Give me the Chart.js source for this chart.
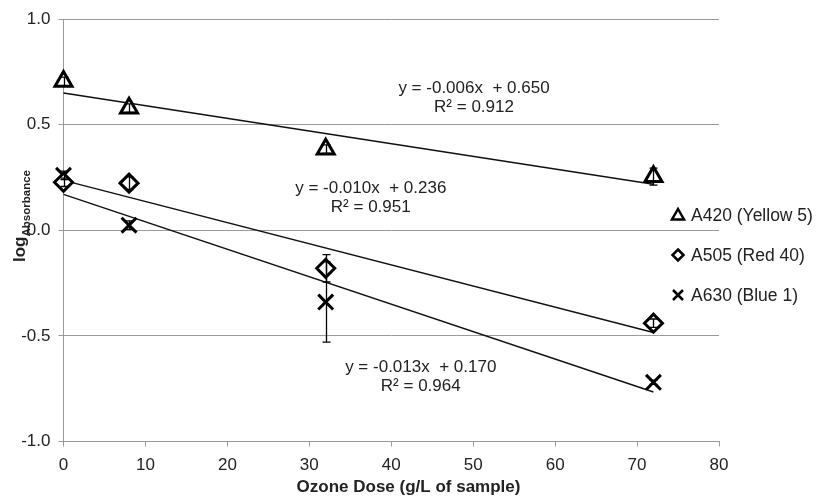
<!DOCTYPE html>
<html><head><meta charset="utf-8">
<script src="https://cdn.jsdelivr.net/npm/chart.js@4.4.1/dist/chart.umd.min.js"></script>
<style>html,body{margin:0;padding:0;background:#fff;}#wrap{width:817px;height:497px;}</style>
</head><body><div id="wrap"><canvas id="c" width="817" height="497"></canvas></div>
<script>
// ---- data ----
const doses = [0, 8, 32, 72];
const seriesLabels = ['A420 (Yellow 5)', 'A505 (Red 40)', 'A630 (Blue 1)'];
const a420 = [0.705, 0.578, 0.384, 0.254];
const a505 = [0.227, 0.223, -0.180, -0.440];
const a630 = [0.260, 0.024, -0.340, -0.720];
const err420 = [0.02, 0.02, 0.02, 0.04];
const err505 = [0.02, 0.03, 0.065, 0.02];
const err630 = [0.02, 0.02, 0.19, 0.01];
const trendSlopes = [-0.006, -0.010, -0.013];
const trendIntercepts = [0.650, 0.236, 0.170];
const trendR2 = [0.912, 0.951, 0.964];
const trendRange = [0, 72];
const xTicks = [0, 10, 20, 30, 40, 50, 60, 70, 80];
const yTicks = [-1.0, -0.5, 0.0, 0.5, 1.0];
const xTitle = 'Ozone Dose (g/L of sample)';
const yTitleMain = 'log';
const yTitleSub = 'Absorbance';

// ---- styling / layout (not data) ----
const FONT = '"Liberation Sans", Arial, sans-serif';
const TXT = '#222';
const GRID = '#9a9a9a';
const pointStyles = ['triangle', 'rectRot', 'crossRot'];
const pointRadii = [9.8, 9, 10.5];
const eqAnchors = [{x: 50.1, y: 0.674}, {x: 37.5, y: 0.199}, {x: 43.6, y: -0.649}];
const legendLayout = {x: 678, y0: 215, gap: 40, textX: 691};

const values = [a420, a505, a630];
const errors = [err420, err505, err630];

const datasets = [];
values.forEach((vals, i) => {
  datasets.push({
    type: 'scatter',
    label: seriesLabels[i],
    data: doses.map((d, j) => ({x: d, y: vals[j]})),
    pointStyle: pointStyles[i],
    pointRadius: pointRadii[i],
    pointHoverRadius: pointRadii[i],
    pointBorderWidth: 3,
    borderColor: '#000',
    backgroundColor: '#fff',
    pointBackgroundColor: '#fff',
    showLine: false,
    clip: false,
    order: 1
  });
});
trendSlopes.forEach((m, i) => {
  datasets.push({
    type: 'line',
    label: 'trend ' + seriesLabels[i],
    data: trendRange.map(x => ({x: x, y: m * x + trendIntercepts[i]})),
    borderColor: '#111',
    borderWidth: 1.5,
    pointRadius: 0,
    fill: false,
    clip: false,
    order: 2
  });
});

const extras = {
  id: 'extras',
  afterDatasetsDraw(chart) {
    const ctx = chart.ctx, xs = chart.scales.x, ys = chart.scales.y;
    ctx.save();
    ctx.strokeStyle = '#000';
    ctx.lineWidth = 1.3;
    values.forEach((vals, i) => {
      vals.forEach((v, j) => {
        const e = errors[i][j];
        const px = Math.round(xs.getPixelForValue(doses[j])) + 0.5;
        const t = ys.getPixelForValue(v + e), b = ys.getPixelForValue(v - e);
        ctx.beginPath();
        ctx.moveTo(px, t); ctx.lineTo(px, b);
        ctx.moveTo(px - 4, t); ctx.lineTo(px + 4, t);
        ctx.moveTo(px - 4, b); ctx.lineTo(px + 4, b);
        ctx.stroke();
      });
    });
    ctx.restore();
  },
  afterDraw(chart) {
    const ctx = chart.ctx, xs = chart.scales.x, ys = chart.scales.y;
    ctx.save();
    // trend equations
    ctx.fillStyle = TXT;
    ctx.font = '17px ' + FONT;
    ctx.textAlign = 'center';
    ctx.textBaseline = 'middle';
    trendSlopes.forEach((m, i) => {
      const cx = xs.getPixelForValue(eqAnchors[i].x);
      const cy = ys.getPixelForValue(eqAnchors[i].y);
      const sign = trendIntercepts[i] >= 0 ? '+' : '-';
      ctx.fillText('y = ' + m.toFixed(3) + 'x  ' + sign + ' ' + Math.abs(trendIntercepts[i]).toFixed(3), cx, cy);
      ctx.fillText('R\u00B2 = ' + trendR2[i].toFixed(3), cx, cy + 19);
    });
    // legend
    ctx.textAlign = 'left';
    ctx.font = '17.5px ' + FONT;
    seriesLabels.forEach((lab, i) => {
      const lx = legendLayout.x, ly = legendLayout.y0 + i * legendLayout.gap;
      ctx.strokeStyle = '#000';
      ctx.fillStyle = '#fff';
      ctx.lineWidth = 2.5;
      ctx.beginPath();
      if (pointStyles[i] === 'triangle') {
        ctx.moveTo(lx, ly - 6); ctx.lineTo(lx + 6, ly + 4.5); ctx.lineTo(lx - 6, ly + 4.5); ctx.closePath();
        ctx.fill(); ctx.stroke();
      } else if (pointStyles[i] === 'rectRot') {
        ctx.moveTo(lx, ly - 5.5); ctx.lineTo(lx + 5.5, ly); ctx.lineTo(lx, ly + 5.5); ctx.lineTo(lx - 5.5, ly); ctx.closePath();
        ctx.fill(); ctx.stroke();
      } else {
        ctx.moveTo(lx - 5, ly - 5); ctx.lineTo(lx + 5, ly + 5);
        ctx.moveTo(lx + 5, ly - 5); ctx.lineTo(lx - 5, ly + 5);
        ctx.stroke();
      }
      ctx.fillStyle = TXT;
      ctx.fillText(lab, legendLayout.textX, ly + 1);
    });
    // x title (centered on the whole chart like the reference)
    ctx.font = 'bold 17px ' + FONT;
    ctx.textAlign = 'center';
    ctx.fillText(xTitle, chart.width / 2, 487);
    // y title with subscript
    ctx.translate(25, 262);
    ctx.rotate(-Math.PI / 2);
    ctx.textAlign = 'left';
    ctx.textBaseline = 'alphabetic';
    ctx.font = 'bold 17px ' + FONT;
    ctx.fillText(yTitleMain, 0, 0);
    const w = ctx.measureText(yTitleMain).width;
    ctx.font = 'bold 11.5px ' + FONT;
    ctx.fillText(yTitleSub, w, 4.5);
    ctx.restore();
  }
};

new Chart(document.getElementById('c'), {
  data: {datasets},
  options: {
    responsive: false,
    animation: false,
    devicePixelRatio: 1,
    layout: {padding: {left: 0, right: 98, top: 19, bottom: 0}},
    plugins: {legend: {display: false}, tooltip: {enabled: false}},
    scales: {
      x: {
        type: 'linear', min: xTicks[0], max: xTicks[xTicks.length - 1],
        afterBuildTicks: s => { s.ticks = xTicks.map(v => ({value: v})); },
        afterFit: s => { s.height = 55.5; },
        ticks: {autoSkip: false, maxRotation: 0, color: TXT, padding: 9, font: {family: FONT, size: 17}},
        grid: {drawOnChartArea: false, drawTicks: true, tickLength: 5, tickColor: GRID, color: GRID},
        border: {display: true, color: GRID, width: 1}
      },
      y: {
        type: 'linear', min: yTicks[0], max: yTicks[yTicks.length - 1],
        afterBuildTicks: s => { s.ticks = yTicks.map(v => ({value: v})); },
        afterFit: s => { s.width = 63.5; },
        ticks: {color: TXT, padding: 8, font: {family: FONT, size: 17}, callback: v => Number(v).toFixed(1)},
        grid: {color: GRID, lineWidth: 1, drawTicks: true, tickLength: 5, tickColor: GRID},
        border: {display: true, color: GRID, width: 1}
      }
    }
  },
  plugins: [extras]
});
</script></body></html>
